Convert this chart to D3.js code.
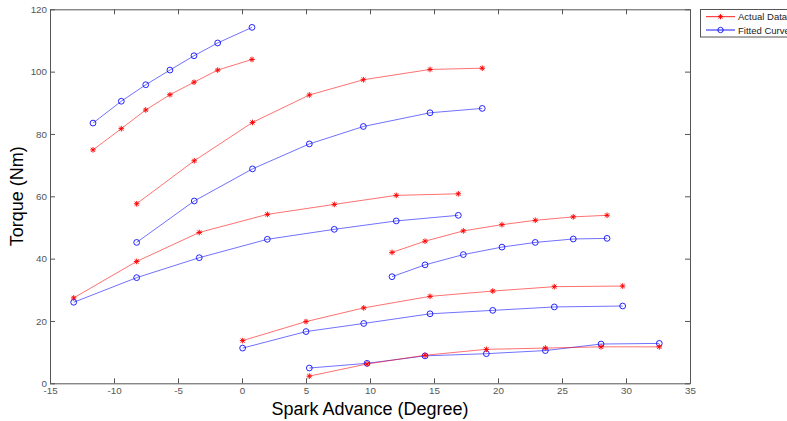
<!DOCTYPE html>
<html>
<head>
<meta charset="utf-8">
<script src="https://cdn.jsdelivr.net/npm/d3@7"></script>
<style>
  html, body { margin: 0; padding: 0; background: #fff; }
  svg { display: block; font-family: "Liberation Sans", Arial, sans-serif; }
</style>
</head>
<body>
<svg id="chart" width="787" height="421"></svg>
<script>
// Spark advance sweeps (degree) and torque (Nm): measured vs. fitted, one run per load point.
const actualX = [
  [-11.64, -9.43, -7.52, -5.63, -3.75, -1.90, 0.78],
  [-8.23, -3.73, 0.82, 5.26, 9.48, 14.69, 18.77],
  [-13.15, -8.23, -3.34, 1.98, 7.21, 12.05, 16.90],
  [11.72, 14.30, 17.29, 20.31, 22.91, 25.88, 28.52],
  [0.05, 5.00, 9.51, 14.69, 19.59, 24.40, 29.74],
  [5.26, 9.77, 14.30, 19.09, 23.70, 28.05, 32.60]
];
const actualTorque = [
  [74.9, 81.7, 87.7, 92.6, 96.6, 100.5, 103.9],
  [57.6, 71.4, 83.7, 92.5, 97.4, 100.7, 101.1],
  [27.4, 39.1, 48.4, 54.2, 57.4, 60.3, 60.8],
  [42.0, 45.6, 48.9, 50.9, 52.3, 53.4, 53.9],
  [13.7, 19.8, 24.2, 27.9, 29.6, 31.0, 31.2],
  [2.3, 6.2, 9.0, 10.9, 11.3, 11.7, 11.7]
];
const fittedX = actualX;
const fittedTorque = [
  [83.5, 90.5, 95.8, 100.5, 105.1, 109.2, 114.2],
  [45.2, 58.5, 68.8, 76.8, 82.4, 86.8, 88.2],
  [26.0, 33.9, 40.3, 46.2, 49.4, 52.1, 53.9],
  [34.2, 38.0, 41.3, 43.7, 45.2, 46.3, 46.5],
  [11.3, 16.6, 19.2, 22.3, 23.4, 24.5, 24.8],
  [4.9, 6.4, 8.8, 9.5, 10.5, 12.6, 12.8]
];
const xTicks = [-15, -10, -5, 0, 5, 10, 15, 20, 25, 30, 35];
const yTicks = [0, 20, 40, 60, 80, 100, 120];
const seriesNames = ["Actual Data", "Fitted Curve"];

const svg = d3.select("#chart");
const plotLeft = 50, plotRight = 690, plotTop = 9.3, plotBottom = 383.3;
const axisColor = "#555";
const red = "#ff0000", blue = "#0000ff";
const plainNumber = d => String(d);

const x = d3.scaleLinear().domain([-15, 35]).range([plotLeft, plotRight]);
const y = d3.scaleLinear().domain([0, 120]).range([plotBottom, plotTop]);

// Axis box with inward ticks on all four sides
function styleAxis(g) {
  g.selectAll("path.domain").attr("stroke", axisColor).attr("stroke-width", 1);
  g.selectAll(".tick line").attr("stroke", axisColor);
  g.selectAll(".tick text").attr("fill", "#555").attr("font-size", 9.8)
    .attr("font-family", "'Liberation Sans', Arial, sans-serif");
}
svg.append("g").attr("transform", `translate(0,${plotBottom})`)
  .call(d3.axisBottom(x).tickValues(xTicks).tickFormat(plainNumber)
    .tickSizeInner(-5).tickSizeOuter(0).tickPadding(4))
  .call(styleAxis);
svg.append("g").attr("transform", `translate(0,${plotTop})`)
  .call(d3.axisTop(x).tickValues(xTicks).tickSizeInner(-5).tickSizeOuter(0).tickFormat(""))
  .call(styleAxis);
svg.append("g").attr("transform", `translate(${plotLeft},0)`)
  .call(d3.axisLeft(y).tickValues(yTicks).tickFormat(plainNumber)
    .tickSizeInner(-5).tickSizeOuter(0).tickPadding(3))
  .call(styleAxis);
svg.append("g").attr("transform", `translate(${plotRight},0)`)
  .call(d3.axisRight(y).tickValues(yTicks).tickSizeInner(-5).tickSizeOuter(0).tickFormat(""))
  .call(styleAxis);

// Axis titles
svg.append("text")
  .attr("x", (plotLeft + plotRight) / 2).attr("y", 415)
  .attr("text-anchor", "middle").attr("font-size", 18).attr("fill", "#000")
  .text("Spark Advance (Degree)");
svg.append("text")
  .attr("transform", `translate(23,${(plotTop + plotBottom) / 2}) rotate(-90)`)
  .attr("text-anchor", "middle").attr("font-size", 18).attr("fill", "#000")
  .text("Torque (Nm)");

const line = d3.line().x(d => x(d[0])).y(d => y(d[1]));
const starPath = (cx, cy, r) => {
  const d = r * 0.72;
  return `M${cx - r},${cy}H${cx + r}M${cx},${cy - r}V${cy + r}` +
         `M${cx - d},${cy - d}L${cx + d},${cy + d}M${cx - d},${cy + d}L${cx + d},${cy - d}`;
};

const plot = svg.append("g");
// Fitted curves (blue, circle markers)
fittedTorque.forEach((ys, i) => {
  const pts = fittedX[i].map((xv, j) => [xv, ys[j]]);
  plot.append("path").attr("d", line(pts)).attr("fill", "none")
    .attr("stroke", blue).attr("stroke-width", 0.8).attr("stroke-opacity", 0.7);
  plot.selectAll(null).data(pts).enter().append("circle")
    .attr("cx", d => x(d[0])).attr("cy", d => y(d[1])).attr("r", 2.9)
    .attr("fill", "none").attr("stroke", blue).attr("stroke-width", 0.85);
});
// Measured data (red, star markers)
actualTorque.forEach((ys, i) => {
  const pts = actualX[i].map((xv, j) => [xv, ys[j]]);
  plot.append("path").attr("d", line(pts)).attr("fill", "none")
    .attr("stroke", red).attr("stroke-width", 0.8).attr("stroke-opacity", 0.7);
  plot.selectAll(null).data(pts).enter().append("path")
    .attr("d", d => starPath(x(d[0]), y(d[1]), 2.8))
    .attr("fill", "none").attr("stroke", red).attr("stroke-width", 0.95);
});

// Legend
const lg = svg.append("g");
lg.append("rect").attr("x", 700.5).attr("y", 9.5).attr("width", 100).attr("height", 27.5)
  .attr("fill", "#fff").attr("stroke", axisColor).attr("stroke-width", 1);
seriesNames.forEach((name, i) => {
  const ly = 16.7 + i * 13.3;
  const col = i === 0 ? red : blue;
  lg.append("line").attr("x1", 706).attr("x2", 735).attr("y1", ly).attr("y2", ly)
    .attr("stroke", col).attr("stroke-width", 0.9);
  if (i === 0) {
    lg.append("path").attr("d", starPath(720.5, ly, 2.6)).attr("fill", "none")
      .attr("stroke", col).attr("stroke-width", 0.95);
  } else {
    lg.append("circle").attr("cx", 720.5).attr("cy", ly).attr("r", 2.7)
      .attr("fill", "none").attr("stroke", col).attr("stroke-width", 0.85);
  }
  lg.append("text").attr("x", 738).attr("y", ly + 3.6)
    .attr("font-size", 9.5).attr("fill", "#222").text(name);
});
</script>
</body>
</html>
